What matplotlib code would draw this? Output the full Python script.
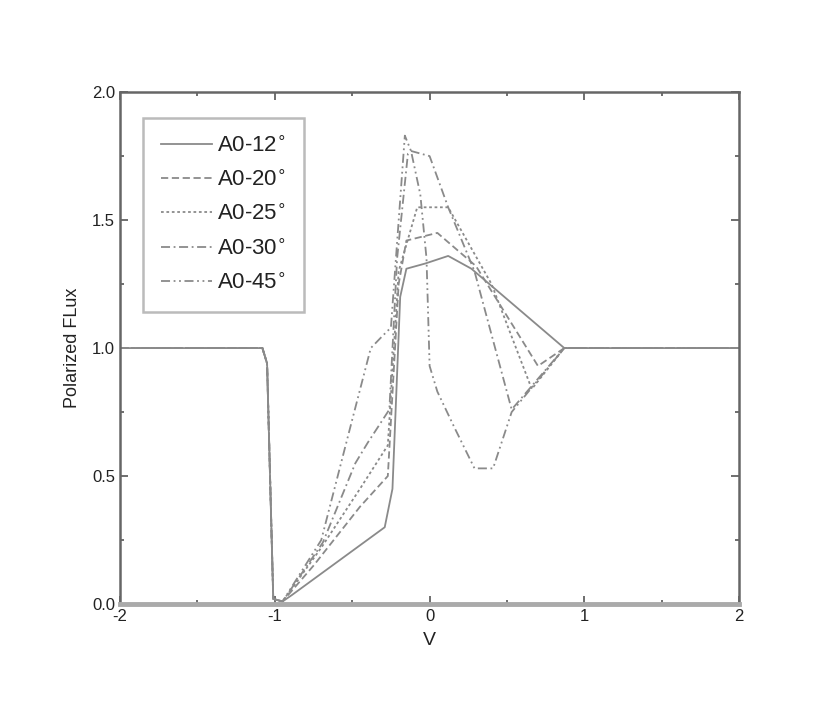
import matplotlib.pyplot as plt
from matplotlib.ticker import MultipleLocator

plt.rcParams['font.family'] = ['Liberation Sans', 'DejaVu Sans']
plt.rcParams['axes.unicode_minus'] = False

# shared flat part on the left and the right
left_v = [-2.0, -1.5, -1.08, -1.05, -1.01, -0.95]
left_f = [1.0, 1.0, 1.0, 0.94, 0.02, 0.01]
right_v = [0.87, 1.5, 2.0]
right_f = [1.0, 1.0, 1.0]

v_12 = [-0.89, -0.29, -0.24, -0.19, -0.15, -0.03, 0.12, 0.27]
f_12 = [0.035, 0.30, 0.45, 1.20, 1.31, 1.33, 1.36, 1.31]

v_20 = [-0.75, -0.45, -0.27, -0.20, -0.15, 0.05, 0.30, 0.70]
f_20 = [0.15, 0.38, 0.50, 1.25, 1.42, 1.45, 1.32, 0.93]

v_25 = [-0.70, -0.45, -0.27, -0.20, -0.08, 0.12, 0.40, 0.66]
f_25 = [0.22, 0.45, 0.62, 1.30, 1.55, 1.55, 1.25, 0.84]

v_30 = [-0.69, -0.48, -0.40, -0.26, -0.21, -0.14, -0.12, 0.0, 0.12, 0.29, 0.53]
f_30 = [0.24, 0.55, 0.63, 0.76, 1.35, 1.76, 1.77, 1.75, 1.55, 1.30, 0.76]

v_45 = [-0.70, -0.50, -0.38, -0.30, -0.25, -0.16, -0.12, -0.06, -0.02, 0.0,
        0.05, 0.16, 0.29, 0.41, 0.53]
f_45 = [0.25, 0.72, 1.0, 1.05, 1.08, 1.83, 1.77, 1.60, 1.35, 0.93,
        0.83, 0.69, 0.53, 0.53, 0.75]

labels = ["A0-12$^{\\circ}$", "A0-20$^{\\circ}$", "A0-25$^{\\circ}$",
          "A0-30$^{\\circ}$", "A0-45$^{\\circ}$"]
series = [(v_12, f_12), (v_20, f_20), (v_25, f_25), (v_30, f_30), (v_45, f_45)]
styles = ['-', (0, (4, 2)), (0, (1.5, 1.5)), (0, (5, 2, 1, 2)), (0, (5, 2, 1, 2, 1, 2))]

fig = plt.figure(figsize=(8.3, 7.14), dpi=100)
ax = fig.add_axes([0.1446, 0.154, 0.746, 0.717])

for (v, f), lab, ls in zip(series, labels, styles):
    ax.plot(left_v + v + right_v, left_f + f + right_f, color='#8a8a8a',
            linestyle=ls, linewidth=1.3, label=lab)

ax.set_xlim(-2, 2)
ax.set_ylim(0, 2)
ax.xaxis.set_major_locator(MultipleLocator(1))
ax.xaxis.set_minor_locator(MultipleLocator(0.5))
ax.yaxis.set_major_locator(MultipleLocator(0.5))
ax.yaxis.set_minor_locator(MultipleLocator(0.25))
ax.yaxis.set_major_formatter(plt.FormatStrFormatter('%.1f'))
ax.tick_params(which='both', direction='in', top=True, right=True,
               color='#555555', labelsize=12, labelcolor='#222222')
ax.tick_params(which='major', length=6, width=1.2)
ax.tick_params(which='minor', length=3, width=1.2)

for side in ['left', 'right', 'top']:
    ax.spines[side].set_color('#666666')
    ax.spines[side].set_linewidth(1.8)
ax.spines['bottom'].set_color('#aaaaaa')
ax.spines['bottom'].set_linewidth(3.5)

ax.set_xlabel("V", fontsize=14, color='#222222', labelpad=6)
ax.set_ylabel("Polarized FLux", fontsize=13, color='#222222', labelpad=8)

leg = ax.legend(loc='upper left', bbox_to_anchor=(0.037, 0.95), borderaxespad=0,
                fontsize=16, frameon=True, fancybox=False, handlelength=2.3,
                labelspacing=0.6, borderpad=0.8, handletextpad=0.25)
leg.get_frame().set_edgecolor('#aaaaaa')
leg.get_frame().set_linewidth(1.8)
for t in leg.get_texts():
    t.set_color('#222222')

fig.savefig("out.png", dpi=100)
